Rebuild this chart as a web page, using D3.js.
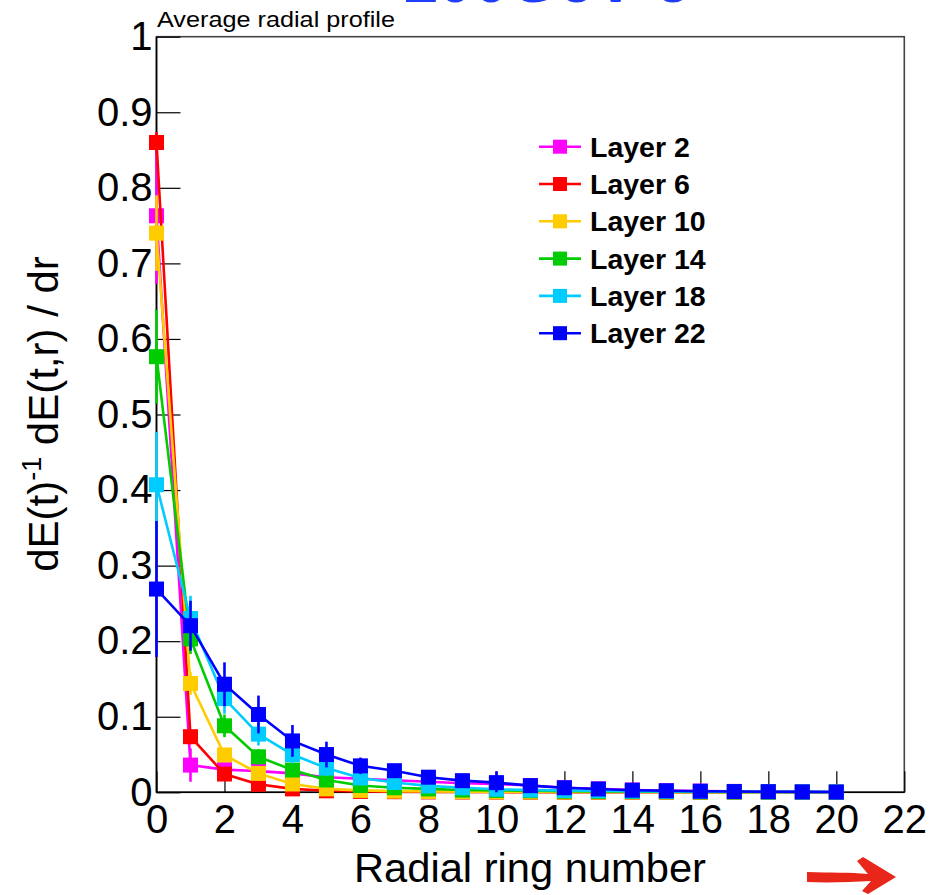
<!DOCTYPE html>
<html>
<head>
<meta charset="utf-8">
<script src="https://cdn.jsdelivr.net/npm/d3@7"></script>
<style>
  html, body { margin: 0; padding: 0; background: #fff; }
  svg { display: block; }
  text { font-family: "Liberation Sans", Arial, Helvetica, sans-serif; }
</style>
</head>
<body>
<svg id="chart" width="941" height="895"></svg>
<script>
// ---------- data ----------
const rings = d3.range(0, 21);            // radial ring numbers 0..20
const layerNames = ["Layer 2", "Layer 6", "Layer 10", "Layer 14", "Layer 18", "Layer 22"];
const layerColors = ["#ff00ff", "#ff0000", "#ffcc00", "#00cc00", "#00ccff", "#0000ff"];

const layer2  = [0.763, 0.036, 0.030, 0.028, 0.025, 0.020, 0.018, 0.016, 0.014, 0.012, 0.011, 0.009, 0.006, 0.0045, 0.003, 0.0022, 0.0016, 0.0012, 0.0009, 0.0006, 0.0004];
const layer6  = [0.860, 0.0736, 0.0242, 0.0106, 0.0045, 0.002, 0.0012, 0.0008, 0.0005, 0.0004, 0.0003, 0.0002, 0.0002, 0.0001, 0.0001, 0.0001, 0.0001, 0.0001, 0.0001, 0.0001, 0.0001];
const layer10 = [0.740, 0.144, 0.0494, 0.025, 0.011, 0.0045, 0.0025, 0.0015, 0.001, 0.0008, 0.0006, 0.0005, 0.0004, 0.0003, 0.0003, 0.0002, 0.0002, 0.0002, 0.0001, 0.0001, 0.0001];
const layer14 = [0.5765, 0.203, 0.088, 0.047, 0.0295, 0.0163, 0.009, 0.006, 0.0045, 0.003, 0.0025, 0.002, 0.0015, 0.0012, 0.001, 0.0008, 0.0006, 0.0005, 0.0004, 0.0003, 0.0002];
const layer18 = [0.407, 0.230, 0.124, 0.077, 0.050, 0.032, 0.019, 0.013, 0.0085, 0.006, 0.004, 0.003, 0.0025, 0.002, 0.0015, 0.0012, 0.001, 0.0008, 0.0006, 0.0005, 0.0004];
const layer22 = [0.269, 0.2205, 0.143, 0.103, 0.068, 0.050, 0.035, 0.0286, 0.020, 0.0154, 0.0128, 0.0088, 0.006, 0.0044, 0.0028, 0.002, 0.0014, 0.001, 0.0008, 0.0005, 0.0003];

const err2  = [0.09, 0.022, 0.006, 0.005, 0.004, 0.003, 0.003, 0.002, 0.002, 0.002, 0.002, 0.001, 0.001, 0.001, 0.001, 0, 0, 0, 0, 0, 0];
const err6  = [0.014, 0.010, 0.005, 0.003, 0.002, 0.001, 0.001, 0, 0, 0, 0, 0, 0, 0, 0, 0, 0, 0, 0, 0, 0];
const err10 = [0.05, 0.015, 0.008, 0.005, 0.003, 0.002, 0.001, 0.001, 0, 0, 0, 0, 0, 0, 0, 0, 0, 0, 0, 0, 0];
const err14 = [0.062, 0.02, 0.015, 0.01, 0.007, 0.005, 0.003, 0.002, 0.002, 0.001, 0.001, 0.001, 0.001, 0, 0, 0, 0, 0, 0, 0, 0];
const err18 = [0.07, 0.03, 0.02, 0.015, 0.012, 0.01, 0.006, 0.004, 0.003, 0.002, 0.002, 0.001, 0.001, 0.001, 0.001, 0, 0, 0, 0, 0, 0];
const err22 = [0.09, 0.033, 0.029, 0.025, 0.021, 0.017, 0.011, 0.007, 0.005, 0.004, 0.015, 0.004, 0.003, 0.002, 0.002, 0.002, 0.001, 0.001, 0.001, 0.001, 0.001];

const seriesValues = [layer2, layer6, layer10, layer14, layer18, layer22];
const seriesErrors = [err2, err6, err10, err14, err18, err22];

const xMajorTicks = d3.range(0, 23, 2);
const xMinorTicks = d3.range(0, 22.01, 0.5);
const yMajorTicks = d3.range(0, 11).map(i => i / 10);
const yMinorTicks = d3.range(0, 51).map(i => i / 50);
const yTickLabels = ["0", "0.1", "0.2", "0.3", "0.4", "0.5", "0.6", "0.7", "0.8", "0.9", "1"];

const chartTitle = "Average radial profile";
const topBanner = "100GeV e";
const xTitle = "Radial ring number";

// ---------- layout ----------
const L = 156.5, R = 904.3, T = 36.7, B = 792.3;
const svg = d3.select("#chart");

const x = d3.scaleLinear().domain([0, 22]).range([L, R]);
const y = d3.scaleLinear().domain([0, 1]).range([B, T]);

// clipped banner text at top (partially visible)
svg.append("text")
  .attr("x", 402).attr("y", 2)
  .attr("font-size", 64).attr("font-weight", "bold")
  .attr("fill", "#1f3cff")
  .text(topBanner);

// frame
svg.append("rect")
  .attr("x", L).attr("y", T).attr("width", R - L).attr("height", B - T)
  .attr("fill", "none").attr("stroke", "#444").attr("stroke-width", 1.6);

// axes
const gx = svg.append("g").attr("transform", `translate(0,${B})`);
gx.call(d3.axisBottom(x).tickValues(xMinorTicks).tickSize(-10.5).tickFormat(""));
gx.call(d3.axisBottom(x).tickValues(xMajorTicks).tickSize(-21).tickPadding(12).tickFormat(d3.format("d")));
gx.selectAll(".domain").remove();
gx.selectAll("line").attr("stroke", "#000").attr("stroke-width", 1.2);
gx.selectAll("text").attr("font-size", 40).attr("fill", "#000")
  .attr("font-family", "'Liberation Sans', Arial, sans-serif");

const gy = svg.append("g").attr("transform", `translate(${L},0)`);
gy.call(d3.axisLeft(y).tickValues(yMinorTicks).tickSize(-12).tickFormat(""));
gy.call(d3.axisLeft(y).tickValues(yMajorTicks).tickSize(-24).tickPadding(4)
  .tickFormat((d, i) => yTickLabels[i]));
gy.selectAll(".domain").remove();
gy.selectAll("line").attr("stroke", "#000").attr("stroke-width", 1.2);
gy.selectAll("text").attr("font-size", 40).attr("fill", "#000")
  .attr("font-family", "'Liberation Sans', Arial, sans-serif");

// axis lines
svg.append("line").attr("x1", L).attr("x2", L).attr("y1", T).attr("y2", B)
  .attr("stroke", "#000").attr("stroke-width", 1.6);
svg.append("line").attr("x1", L).attr("x2", R).attr("y1", B).attr("y2", B)
  .attr("stroke", "#000").attr("stroke-width", 1.6);

// title
svg.append("text").attr("x", 157).attr("y", 27)
  .attr("font-size", 22.5).attr("fill", "#000")
  .attr("textLength", 238).attr("lengthAdjust", "spacingAndGlyphs")
  .text(chartTitle);

// x title
svg.append("text").attr("x", 706).attr("y", 882)
  .attr("text-anchor", "end").attr("font-size", 40).attr("fill", "#000")
  .attr("textLength", 352).attr("lengthAdjust", "spacingAndGlyphs")
  .text(xTitle);

// y title
const yt = svg.append("text")
  .attr("transform", "translate(58,414) rotate(-90)")
  .attr("text-anchor", "middle").attr("font-size", 42).attr("fill", "#000");
yt.append("tspan").text("dE(t)");
yt.append("tspan").attr("font-size", 27).attr("dy", -17).text("-1");
yt.append("tspan").attr("dy", 17).text(" dE(t,r) / dr");

// series
const line = d3.line().x((d, i) => x(rings[i])).y(d => y(d));
const MS = 15;
seriesValues.forEach((vals, s) => {
  const col = layerColors[s];
  const g = svg.append("g");
  g.append("path").datum(vals).attr("d", line)
    .attr("fill", "none").attr("stroke", col).attr("stroke-width", 2.6);
  g.selectAll("line.err").data(vals).join("line")
    .attr("x1", (d, i) => x(rings[i])).attr("x2", (d, i) => x(rings[i]))
    .attr("y1", (d, i) => y(d + seriesErrors[s][i]))
    .attr("y2", (d, i) => y(Math.max(0, d - seriesErrors[s][i])))
    .attr("stroke", col).attr("stroke-width", 2.6);
  g.selectAll("rect").data(vals).join("rect")
    .attr("x", (d, i) => x(rings[i]) - MS / 2)
    .attr("y", d => y(d) - MS / 2)
    .attr("width", MS).attr("height", MS)
    .attr("fill", col);
});

// legend
const lg = svg.append("g");
layerNames.forEach((name, i) => {
  const cy = 146.7 + i * 37.3;
  lg.append("line").attr("x1", 539).attr("x2", 581).attr("y1", cy).attr("y2", cy)
    .attr("stroke", layerColors[i]).attr("stroke-width", 2.6);
  lg.append("rect").attr("x", 560 - 7).attr("y", cy - 7).attr("width", 14).attr("height", 14)
    .attr("fill", layerColors[i]);
  lg.append("text").attr("x", 590).attr("y", cy + 10)
    .attr("font-size", 28.5).attr("font-weight", "bold").attr("fill", "#000")
    .text(name);
});

// hand-drawn red arrow
svg.append("path")
  .attr("d", "M807,872 C830,873 850,872 868,874 L857,861 L863,857 L896,877 L868,894 L862,891 L871,881 C850,882 830,883 807,882 Z")
  .attr("fill", "#e8261a");
</script>
</body>
</html>
